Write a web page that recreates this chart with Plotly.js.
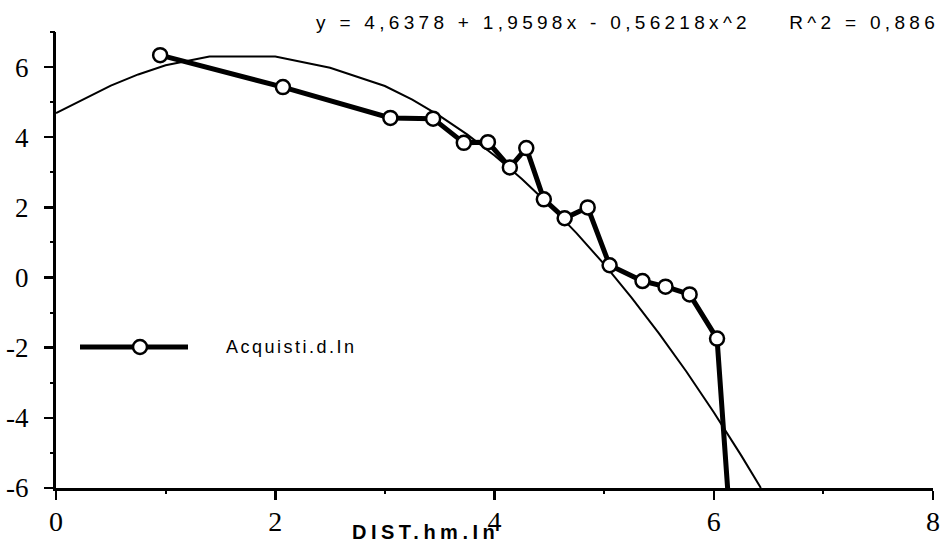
<!DOCTYPE html>
<html>
<head>
<meta charset="utf-8">
<script src="https://cdn.plot.ly/plotly-3.0.1.min.js"></script>
<style>
  html, body { margin: 0; padding: 0; background: #fff; }
  #chart { width: 947px; height: 551px; }
</style>
</head>
<body>
<div id="chart"></div>
<script>
// Observed series: Acquisti.d.In vs DIST.hm.In
var distX = [0.95, 2.07, 3.05, 3.44, 3.72, 3.94, 4.14, 4.29, 4.45, 4.64, 4.85, 5.05, 5.35, 5.56, 5.78, 6.03, 6.14];
var acqY  = [6.34, 5.43, 4.55, 4.53, 3.84, 3.86, 3.14, 3.69, 2.23, 1.69, 2.00, 0.35, -0.10, -0.26, -0.48, -1.74, -6.6];

// Fitted curve
var fitX = [0.0, 0.25, 0.5, 0.75, 1.0, 1.4, 2.0, 2.5, 3.0, 3.25, 3.5, 3.75, 4.0, 4.25, 4.5, 4.75, 5.0, 5.25, 5.5, 5.75, 6.0, 6.25, 6.43];
var fitY = [4.69, 5.09, 5.47, 5.79, 6.05, 6.30, 6.30, 5.98, 5.46, 5.07, 4.61, 4.08, 3.48, 2.81, 2.07, 1.26, 0.38, -0.57, -1.59, -2.68, -3.84, -5.07, -6.0];

var seriesName = "Acquisti.d.In";
var xTitle = "DIST.hm.In";
var eqText = "y\u00A0=\u00A04,6378\u00A0+\u00A01,9598x\u00A0-\u00A00,56218x^2\u00A0\u00A0\u00A0\u00A0R^2\u00A0=\u00A00,886";

var xTickVals = [0, 2, 4, 6, 8];
var xTickText = ["0", "2", "4", "6", "8"];
var xMinorVals = [1, 3, 5, 7];
var yTickVals = [-6, -4, -2, 0, 2, 4, 6];
var yTickText = ["-6", "-4", "-2", "0", "2", "4", "6"];
var yMinorVals = [-5, -3, -1, 1, 3, 5, 7];

var xRange = [0, 8];
var yRange = [-6, 7];

var traces = [
  {
    x: fitX, y: fitY, type: "scatter", mode: "lines",
    line: { color: "#000", width: 2 },
    showlegend: false, hoverinfo: "skip"
  },
  {
    x: distX, y: acqY, type: "scatter", mode: "lines+markers",
    name: seriesName,
    line: { color: "#000", width: 5 },
    marker: { symbol: "circle", size: 14, color: "#fff", line: { color: "#000", width: 2.5 } },
    showlegend: false
  },
  // empty trace that only carries the minor-tick axes
  { x: [], y: [], type: "scatter", mode: "lines", xaxis: "x2", yaxis: "y2", showlegend: false, hoverinfo: "skip" }
];

var L = 56, R = 14, T = 32, B = 63, W = 947, H = 551;
var pw = W - L - R, ph = H - T - B;
function px(x) { return (x - L) / pw; }
function py(y) { return (H - B - y) / ph; }

var serif = "Liberation Serif";
var sans = "Liberation Sans";

var layout = {
  width: W, height: H,
  margin: { l: L, r: R, t: T, b: B, pad: 0 },
  paper_bgcolor: "#fff", plot_bgcolor: "#fff",
  showlegend: false,
  xaxis: {
    range: xRange, showgrid: false, zeroline: false,
    showline: true, linecolor: "#000", linewidth: 3,
    tickmode: "array", tickvals: xTickVals, ticktext: xTickText,
    ticks: "outside", ticklen: 9, tickwidth: 2.5, tickcolor: "#000",
    ticklabelstandoff: -3,
    tickfont: { family: serif, size: 28, color: "#000" }
  },
  yaxis: {
    range: yRange, showgrid: false, zeroline: false,
    showline: true, linecolor: "#000", linewidth: 3,
    tickmode: "array", tickvals: yTickVals, ticktext: yTickText,
    ticks: "outside", ticklen: 9, tickwidth: 2.5, tickcolor: "#000",
    ticklabelstandoff: 10,
    tickfont: { family: serif, size: 27, color: "#000" }
  },
  xaxis2: {
    overlaying: "x", anchor: "y2", side: "bottom", range: xRange,
    showgrid: false, zeroline: false, showline: false, showticklabels: false,
    tickmode: "array", tickvals: xMinorVals,
    ticks: "outside", ticklen: 5, tickwidth: 2, tickcolor: "#000"
  },
  yaxis2: {
    overlaying: "y", anchor: "x2", side: "left", range: yRange,
    showgrid: false, zeroline: false, showline: false, showticklabels: false,
    tickmode: "array", tickvals: yMinorVals,
    ticks: "outside", ticklen: 5, tickwidth: 2, tickcolor: "#000"
  },
  shapes: [
    { type: "line", xref: "paper", yref: "paper", x0: px(80), x1: px(188), y0: py(347), y1: py(347),
      line: { color: "#000", width: 5 } },
    { type: "circle", xref: "paper", yref: "paper",
      x0: px(140 - 7), x1: px(140 + 7), y0: py(347 + 7), y1: py(347 - 7),
      fillcolor: "#fff", line: { color: "#000", width: 2.5 }, layer: "above" }
  ],
  annotations: [
    { text: "<span style='letter-spacing:4.3px'>" + eqText + "</span>", xref: "paper", yref: "paper", x: px(941), y: py(22),
      xanchor: "right", yanchor: "middle", showarrow: false,
      font: { family: sans, size: 19, color: "#000" } },
    { text: "<span style='letter-spacing:2.5px'>" + seriesName + "</span>", xref: "paper", yref: "paper", x: px(224), y: py(347),
      xanchor: "left", yanchor: "middle", showarrow: false,
      font: { family: sans, size: 18, color: "#000" } },
    { text: "<span style='letter-spacing:4.5px'><b>" + xTitle + "</b></span>", xref: "paper", yref: "paper", x: px(425), y: py(532),
      xanchor: "center", yanchor: "middle", showarrow: false,
      font: { family: sans, size: 20, color: "#000" } }
  ]
};

Plotly.newPlot("chart", traces, layout, { displayModeBar: false, staticPlot: true });
</script>
</body>
</html>
